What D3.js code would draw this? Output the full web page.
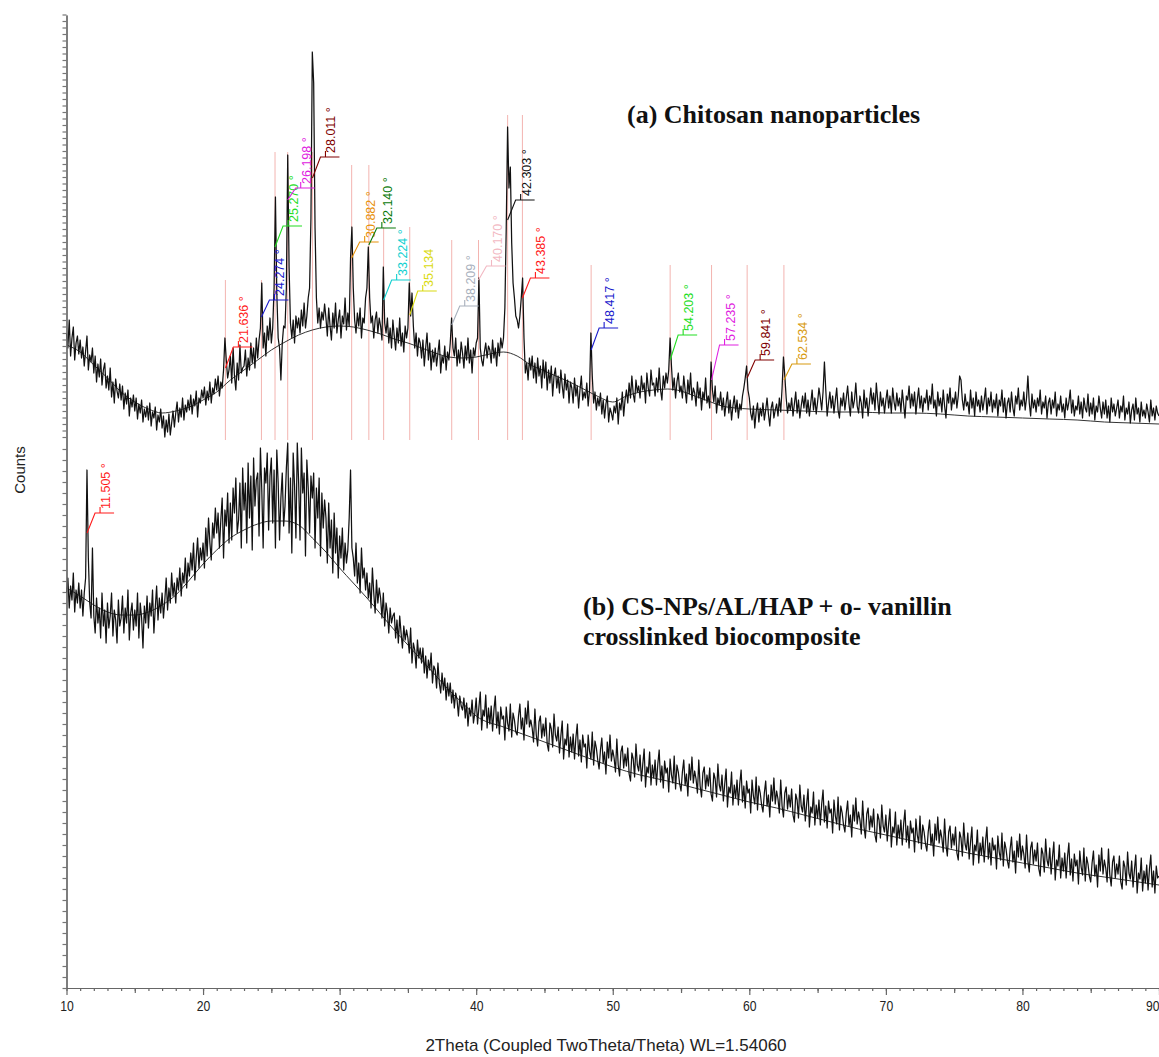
<!DOCTYPE html>
<html>
<head>
<meta charset="utf-8">
<script src="https://cdn.jsdelivr.net/npm/d3@7"></script>
<style>
  body { margin: 0; background: #fff; }
  svg { display: block; }
</style>
</head>
<body>
<svg id="chart" width="1159" height="1057"></svg>
<script>
// Scan grid (2θ start and step, degrees)
const scanStart = 10, scanStep = 0.1;

// (a) Chitosan nanoparticles, counts per step (10.0° … 90.0°)
const countsA = [
  655,640,668,632,650,661,628,645,652,634,
  648,630,641,622,637,652,618,633,626,640,
  615,632,606,624,611,629,603,618,625,600,
  612,598,620,591,606,585,609,597,590,604,
  588,602,579,595,584,598,572,590,581,593,
  577,590,569,584,575,588,566,579,571,582,
  568,585,562,576,570,581,558,573,566,579,
  560,572,551,568,556,574,553,565,577,561,
  575,586,566,580,571,590,568,583,576,588,
  578,593,574,589,582,597,571,590,585,598,
  590,601,583,597,588,606,585,600,594,609,
  598,612,592,606,600,618,650,628,610,618,
  632,605,640,612,598,625,608,643,615,620,
  622,638,612,630,618,645,625,640,620,650,
  630,648,660,705,640,655,632,662,648,670,
  645,660,700,791,695,650,640,608,645,662,
  660,700,833,720,665,650,668,645,672,660,
  670,655,678,662,685,660,672,690,700,770,
  936,905,760,690,665,680,660,676,668,684,
  670,652,680,662,648,675,660,685,655,668,
  678,650,672,664,690,658,675,662,730,761,
  700,668,655,675,662,680,650,670,665,690,
  700,741,690,665,672,650,668,676,655,670,
  662,648,721,665,655,670,645,660,640,668,
  652,638,660,645,670,642,655,636,662,650,
  660,705,672,695,662,640,655,632,650,645,
  630,648,622,640,655,628,645,618,638,626,
  640,622,635,648,615,632,625,642,618,636,
  628,645,670,640,632,650,622,638,625,646,
  635,620,642,628,650,625,638,615,640,632,
  645,650,710,640,628,622,636,645,630,642,
  638,625,648,630,640,622,645,632,650,640,
  650,680,760,861,800,821,745,705,690,672,
  668,660,672,690,710,650,615,625,608,630,
  618,632,610,625,605,630,612,622,600,628,
  610,626,598,618,605,622,592,612,620,600,
  612,595,618,602,590,614,598,608,585,606,
  600,585,610,592,602,580,598,612,588,596,
  590,605,582,598,655,612,585,596,578,590,
  582,595,574,588,570,584,592,566,580,575,
  568,582,575,590,564,585,578,596,572,588,
  598,585,605,590,612,594,586,608,596,602,
  590,612,598,605,585,615,600,592,618,603,
  605,592,610,596,620,598,588,612,600,615,
  605,618,650,622,598,610,590,606,615,596,
  602,590,612,598,585,608,594,615,588,600,
  595,582,606,590,600,578,596,588,610,585,
  592,580,626,598,586,602,575,590,583,596,
  578,590,572,585,596,575,588,568,582,592,
  576,588,570,584,578,592,600,610,622,598,
  590,575,568,582,560,576,585,566,580,572,
  585,568,578,590,574,562,580,586,570,578,
  584,572,590,576,600,631,612,590,575,585,
  578,590,572,584,596,575,588,570,582,592,
  580,595,575,588,572,585,598,578,590,574,
  586,600,590,578,596,626,598,572,585,596,
  580,592,575,588,600,578,570,590,582,595,
  578,590,602,584,572,596,580,588,605,582,
  575,592,585,570,598,580,590,572,586,600,
  584,595,578,605,588,574,596,582,590,575,
  588,598,580,592,575,600,586,578,595,582,
  590,576,598,584,570,592,588,602,580,594,
  582,596,574,588,600,580,592,576,590,585,
  598,578,592,584,604,580,588,572,596,582,
  590,576,598,582,570,594,585,600,578,590,
  584,596,580,592,612,608,588,578,594,582,
  586,574,598,580,590,572,596,582,588,576,
  592,578,588,600,574,590,582,596,576,588,
  580,594,572,588,582,598,576,590,570,585,
  590,576,596,580,572,592,584,600,578,588,
  582,596,578,590,612,585,572,594,580,588,
  576,590,582,598,574,586,580,592,570,585,
  590,574,588,580,596,572,584,578,592,576,
  584,570,590,578,586,598,575,588,572,582,
  578,592,574,586,570,590,580,576,594,572,
  585,574,590,568,582,576,592,580,570,586,
  574,588,570,582,566,590,576,584,572,580,
  588,570,582,576,592,568,580,574,586,565,
  578,584,568,590,574,580,566,586,572,578,
  570,584,576,566,588,572,580,568,582,575,
  572
];

// (b) CS-NPs/AL/HAP + o-vanillin crosslinked biocomposite, counts per step
const countsB = [
  395,410,380,402,388,415,376,398,385,405,
  380,398,372,395,410,518,430,385,370,440,
  372,355,390,365,380,350,395,362,378,345,
  385,360,372,395,352,378,368,345,388,362,
  370,392,355,380,365,398,348,375,385,358,
  378,362,395,350,385,370,340,382,365,392,
  360,385,372,398,355,380,402,368,390,375,
  395,370,388,410,378,400,385,415,392,405,
  385,410,398,420,392,415,405,430,400,425,
  412,435,418,445,408,430,450,420,440,428,
  445,420,460,432,470,445,428,465,450,480,
  455,475,440,468,490,430,478,462,495,445,
  485,448,500,475,510,455,468,505,440,520,
  478,505,445,525,470,512,438,530,482,508,
  515,452,540,498,440,520,505,535,458,512,
  530,465,518,440,538,505,448,490,515,462,
  482,520,545,455,510,435,535,502,450,545,
  505,448,540,495,515,432,528,500,455,512,
  490,515,440,500,470,510,432,495,460,488,
  470,425,485,440,468,415,475,435,460,410,
  452,430,460,418,445,425,438,470,518,440,
  430,412,445,405,425,395,440,410,420,398,
  415,390,405,380,420,395,375,408,385,400,
  390,370,395,362,385,375,355,380,365,372,
  375,350,368,345,372,355,340,362,348,358,
  350,335,360,325,345,338,320,348,330,340,
  325,340,315,332,310,328,318,335,305,322,
  318,300,325,305,295,315,298,310,288,305,
  292,305,285,298,280,295,288,272,292,282,
  278,290,270,285,262,280,272,288,265,275,
  290,264,281,296,258,278,272,293,260,280,
  264,282,257,278,292,260,276,254,281,269,
  272,248,281,265,257,284,251,275,268,256,
  253,272,284,259,270,248,280,264,287,261,
  268,260,246,279,253,242,266,272,250,264,
  252,270,244,237,265,259,241,274,253,247,
  261,235,252,267,229,249,243,264,231,251,
  236,254,229,250,264,232,248,226,253,241,
  244,220,253,237,229,256,223,247,240,228,
  219,238,250,225,236,214,246,230,253,227,
  238,230,216,249,223,212,236,242,220,234,
  222,240,214,207,235,229,211,244,223,217,
  233,207,224,239,201,221,215,236,203,223,
  210,228,203,224,238,206,222,200,227,215,
  220,196,229,213,205,232,199,223,216,204,
  197,216,228,203,214,192,224,208,231,205,
  217,209,195,228,202,191,215,221,199,213,
  202,220,194,187,215,209,191,224,203,197,
  213,187,204,219,181,201,195,216,183,203,
  190,208,183,204,218,186,202,180,207,195,
  199,175,208,192,184,211,178,202,195,183,
  176,195,207,182,193,171,203,187,210,184,
  197,189,175,208,182,171,195,201,179,193,
  181,199,173,166,194,188,170,203,182,176,
  193,167,184,199,161,181,175,196,163,183,
  170,188,163,184,198,166,182,160,187,175,
  179,155,188,172,164,191,158,182,175,163,
  156,175,187,162,173,151,183,167,190,164,
  176,168,154,187,161,150,174,180,158,172,
  161,179,153,146,174,168,150,183,162,156,
  173,147,164,179,141,161,155,176,143,163,
  150,168,143,164,178,146,162,140,167,155,
  160,136,169,153,145,172,139,163,156,144,
  137,156,168,143,154,132,164,148,171,145,
  158,150,136,169,143,132,156,162,140,154,
  143,161,135,128,156,150,132,165,144,138,
  155,129,146,161,123,143,137,158,125,145,
  133,151,126,147,161,129,145,123,150,138,
  143,119,152,136,128,155,122,146,139,127,
  120,139,151,126,137,115,147,131,154,128,
  142,134,120,153,127,116,140,146,124,138,
  127,145,119,112,140,134,116,149,128,122,
  140,114,131,146,108,128,122,143,110,130,
  117,135,110,131,145,113,129,107,134,122,
  128,104,137,121,113,140,107,131,124,112,
  106,125,137,112,123,101,133,117,140,114,
  128,120,106,139,113,102,126,132,110,124,
  114,132,106,99,127,121,103,136,115,109,
  127,101,118,133,95,115,109,130,97,117,
  105,123,98,119,133,101,117,95,122,110,
  112
];

// Fitted background curves
const bgAnglesA = [10,11,12,13,14,15,16,17,18,19,20,21,22,23,24,25,26,27,28,29,30,31,32,33,34,35,36,37,38,39,40,41,42,43,44,45,46,47,48,49,50,51,52,53,54,55,56,57,58,59,60,62,64,66,68,70,72,74,76,78,80,82,84,86,88,90];
const bgCountsA = [643,636,623,610,596,586,579,575,577,581,588,596,608,618,628,638,646,653,658,661,662,661,658,654,649,645,640,635,631,630,631,634,636,632,623,617,611,605,598,591,586,592,596,598,599,597,592,587,582,580,579,578,577,576,576,575,575,574,572,571,570,569,568,566,565,564];
const bgAnglesB = [10,11,12,13,14,15,16,17,18,19,20,21,22,23,24,25,26,27,28,29,30,31,32,33,34,35,36,37,38,39,40,42,44,46,48,50,52,54,56,58,60,62,64,66,68,70,72,74,76,78,80,82,84,86,88,90];
const bgCountsB = [400,392,383,376,373,373,376,383,393,408,424,438,450,458,464,467,467,463,450,436,420,405,390,374,358,343,328,313,298,285,272,261,251,241,231,221,213,207,200,193,186,180,173,166,159,153,147,141,135,130,125,120,115,111,107,103];

// Identified peaks, pattern (a)
const peakAnglesA  = [21.636, 24.274, 25.270, 26.198, 28.011, 30.882, 32.140, 33.224, 35.134, 38.209, 40.170, 42.303, 43.385, 48.417, 54.203, 57.235, 59.841, 62.534];
const peakTextA    = ["21.636 °","24.274 °","25.270 °","26.198 °","28.011 °","30.882 °","32.140 °","33.224 °","35.134","38.209 °","40.170 °","42.303 °","43.385 °","48.417 °","54.203 °","57.235 °","59.841 °","62.534 °"];
const peakAnchorA  = [620, 671, 741, 788, 810, 730, 743, 688, 673, 663, 708, 768, 690, 638, 628, 608, 610, 608];
const peakBracketA = [641, 688, 762, 800, 831, 746, 760, 708, 697, 682, 722, 788, 710, 660, 653, 643, 628, 624];
const stickTopA    = [708, 708, 836, 836, 836, 823, 823, 761, 761, 748, 748, 873, 873, 723, 723, 723, 723, 723];
const stickBaseA   = 548;
const peakColorsA  = ["#ff1a1a","#1a1acc","#22dd22","#e020e0","#800000","#e8920a","#0a7a0a","#10d0d0","#dada10","#a8b0bc","#f2b8c2","#111111","#ff1a1a","#1a1acc","#22dd22","#e020e0","#800000","#d89a10"];

// Identified peaks, pattern (b)
const peakAnglesB  = [11.505];
const peakTextB    = ["11.505 °"];
const peakAnchorB  = [455];
const peakBracketB = [475];
const peakColorsB  = ["#ff1a1a"];

const xTickLabels = ["10","20","30","40","50","60","70","80","90"];
const xTitle = "2Theta (Coupled TwoTheta/Theta) WL=1.54060";
const yTitle = "Counts";

// ---------------------------------------------------------------
const svg = d3.select("#chart");
const W = 1159;
const x = d3.scaleLinear().domain([10, 90]).range([66.5, 1159]);
const y = d3.scaleLinear().domain([0, 973]).range([988, 15]);
const angleAt = i => scanStart + i * scanStep;

// stick markers behind the scans
svg.append("g").selectAll("line").data(peakAnglesA).join("line")
  .attr("x1", d => x(d)).attr("x2", d => x(d))
  .attr("y1", y(stickBaseA)).attr("y2", (d, i) => y(stickTopA[i]))
  .attr("stroke", "#f3b4b0").attr("stroke-width", 1);

// background fits
const bgLine = d3.line().curve(d3.curveMonotoneX).x(d => x(d[0])).y(d => y(d[1]));
svg.append("path").datum(bgAnglesA.map((a, i) => [a, bgCountsA[i]]))
  .attr("d", bgLine).attr("fill", "none").attr("stroke", "#333").attr("stroke-width", 1);
svg.append("path").datum(bgAnglesB.map((a, i) => [a, bgCountsB[i]]))
  .attr("d", bgLine).attr("fill", "none").attr("stroke", "#333").attr("stroke-width", 1);

// raw scans
const scanLine = d3.line().x((d, i) => x(angleAt(i))).y(d => y(d));
[countsA, countsB].forEach(series => {
  svg.append("path").datum(series)
    .attr("d", scanLine).attr("fill", "none")
    .attr("stroke", "#111").attr("stroke-width", 1.25).attr("stroke-linejoin", "round");
});

// peak labels
function drawPeakLabels(angles, texts, anchors, brackets, colors) {
  const g = svg.append("g");
  angles.forEach((a, i) => {
    const px = x(a), py = y(anchors[i]);
    const bx = px + 8, by = y(brackets[i]);
    const c = colors[i];
    g.append("path")
      .attr("d", `M${px},${py}L${bx},${by}L${bx + 19},${by}M${bx + 5},${by}L${bx + 5},${by - 6}`)
      .attr("fill", "none").attr("stroke", c).attr("stroke-width", 1.1);
    g.append("text")
      .attr("transform", `translate(${bx + 11},${by - 4}) rotate(-90)`)
      .attr("dominant-baseline", "central")
      .attr("font-family", "'Liberation Sans', Arial, sans-serif")
      .attr("font-size", 12.5)
      .attr("fill", c)
      .text(texts[i]);
  });
}
drawPeakLabels(peakAnglesA, peakTextA, peakAnchorA, peakBracketA, peakColorsA);
drawPeakLabels(peakAnglesB, peakTextB, peakAnchorB, peakBracketB, peakColorsB);

// x axis: minor, mid and major ticks
const axisFont = "'Liberation Sans Narrow', 'Arial Narrow', 'Liberation Sans', sans-serif";
function xAxisLayer(values, size, labelled) {
  const ax = d3.axisBottom(x).tickValues(values).tickSize(size).tickSizeOuter(0)
    .tickFormat(labelled ? ((d, i) => xTickLabels[i]) : "");
  const g = svg.append("g").attr("transform", `translate(0,${y(0)})`).call(ax);
  g.select(".domain").attr("stroke", "#666").attr("stroke-width", 1.2);
  g.selectAll(".tick line").attr("stroke", "#666").attr("stroke-width", 1.2);
  g.selectAll(".tick text").attr("font-family", axisFont).attr("font-size", 14.5)
    .attr("fill", "#222").attr("dy", "0.9em")
    .attr("transform", "scale(0.84,1)");
  // keep the last label inside the frame
  g.selectAll(".tick").filter(d => x(d) > W - 8).select("text")
    .attr("text-anchor", "end").attr("x", 0);
  return g;
}
xAxisLayer(d3.range(10, 91, 1), 3, false);
xAxisLayer(d3.range(15, 91, 10), 5, false);
xAxisLayer(d3.range(10, 91, 10), 7, true);

// y axis: sparse ticks on the lower scan, dense on the upper one
function yAxisLayer(values, size) {
  const ax = d3.axisLeft(y).tickValues(values).tickSize(size).tickSizeOuter(0).tickFormat("");
  const g = svg.append("g").attr("transform", `translate(${x(10)},0)`).call(ax);
  g.select(".domain").attr("stroke", "#666").attr("stroke-width", 1.2);
  g.selectAll(".tick line").attr("stroke", "#777").attr("stroke-width", 1.2);
}
const lowerTicks = d3.range(0, 545, 11);
const upperTicks = d3.range(551, 974, 6.5);
yAxisLayer(lowerTicks, 4);
yAxisLayer(upperTicks, 4);

// axis titles
svg.append("text").attr("x", 606).attr("y", 1051).attr("text-anchor", "middle")
  .attr("font-family", axisFont).attr("font-size", 17).attr("fill", "#222").text(xTitle);
svg.append("text").attr("transform", "translate(25,470) rotate(-90)")
  .attr("text-anchor", "middle")
  .attr("font-family", "'Liberation Sans', Arial, sans-serif").attr("font-size", 15)
  .attr("fill", "#222").text(yTitle);

// sample captions
const captionFont = "'Liberation Serif', 'Times New Roman', serif";
svg.append("text").attr("x", 627).attr("y", 123)
  .attr("font-family", captionFont).attr("font-weight", "bold").attr("font-size", 26)
  .attr("fill", "#111").text("(a) Chitosan nanoparticles");
svg.append("text").attr("x", 583).attr("y", 615)
  .attr("font-family", captionFont).attr("font-weight", "bold").attr("font-size", 26)
  .attr("fill", "#111").text("(b) CS-NPs/AL/HAP + o- vanillin");
svg.append("text").attr("x", 583).attr("y", 645)
  .attr("font-family", captionFont).attr("font-weight", "bold").attr("font-size", 26)
  .attr("fill", "#111").text("crosslinked biocomposite");
</script>
</body>
</html>
